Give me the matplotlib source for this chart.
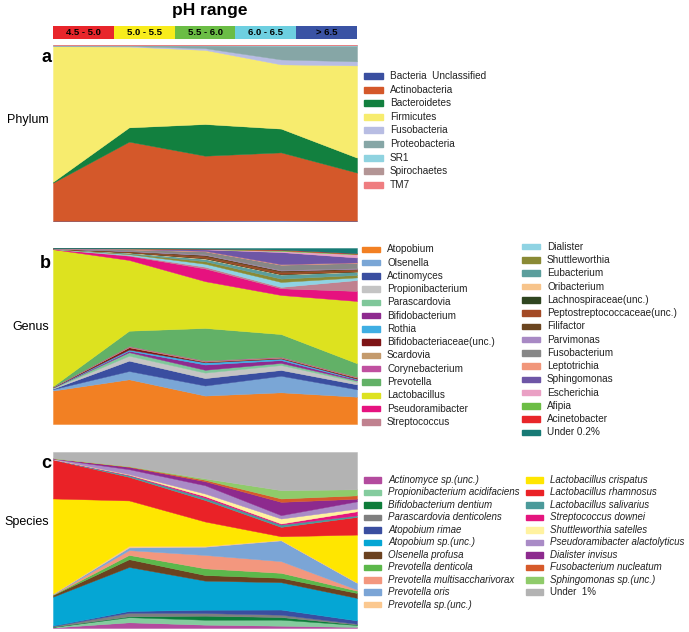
import numpy as np
import matplotlib.pyplot as plt
from matplotlib.patches import Rectangle

# pH ranges (x positions of the stacked areas)
ph_labels = ['4.5 - 5.0', '5.0 - 5.5', '5.5 - 6.0', '6.0 - 6.5', '> 6.5']
ph_colors = ['#e8252b', '#f8ec1c', '#6bbd45', '#6dcfe0', '#3a53a4']

# panel a : phylum (% per pH range, bottom -> top)
phylum_names = ['Bacteria  Unclassified', 'Actinobacteria', 'Bacteroidetes', 'Firmicutes',
                'Fusobacteria', 'Proteobacteria', 'SR1', 'Spirochaetes', 'TM7']
phylum_colors = ['#3a4fa0', '#d4582a', '#12803f', '#f7ec6e', '#b8bde3',
                 '#86a6a6', '#8fd3e0', '#b39595', '#ef7d80']
phylum_values = [
    [0.1, 0.1, 0.3, 0.4, 0.2],
    [21.7, 45.0, 36.8, 38.6, 27.3],
    [0.5, 8.1, 18.0, 13.5, 8.5],
    [77.0, 45.9, 42.1, 36.5, 52.4],
    [0.2, 0.3, 1.0, 2.8, 2.3],
    [0.3, 0.4, 1.5, 7.8, 8.9],
    [0.1, 0.1, 0.1, 0.2, 0.2],
    [0.05, 0.05, 0.1, 0.1, 0.1],
    [0.05, 0.05, 0.1, 0.1, 0.1],
]

# panel b : genus
genus_names = ['Atopobium', 'Olsenella', 'Actinomyces', 'Propionibacterium', 'Parascardovia',
               'Bifidobacterium', 'Rothia', 'Bifidobacteriaceae(unc.)', 'Scardovia',
               'Corynebacterium', 'Prevotella', 'Lactobacillus', 'Pseudoramibacter',
               'Streptococcus', 'Dialister', 'Shuttleworthia', 'Eubacterium', 'Oribacterium',
               'Lachnospiraceae(unc.)', 'Peptostreptococcaceae(unc.)', 'Filifactor',
               'Parvimonas', 'Fusobacterium', 'Leptotrichia', 'Sphingomonas', 'Escherichia',
               'Afipia', 'Acinetobacter', 'Under 0.2%']
genus_colors = ['#f28023', '#7aa6d6', '#3a4ea0', '#c4c4c4', '#7fc79a', '#8e2a8f', '#3faee3',
                '#7e1416', '#c49a6c', '#c050a0', '#62b167', '#dde21f', '#e6127f', '#c0818f',
                '#8fd3e3', '#8a8a35', '#5b9e9c', '#f7c48b', '#2f4520', '#a34a25', '#6b4520',
                '#a889c4', '#878787', '#f1967a', '#6e56a6', '#eaa0c4', '#6cbd45', '#e8262a',
                '#177a75']
genus_values = [
    [19.0, 25.4, 16.1, 18.0, 15.5],
    [0.8, 4.7, 5.7, 9.4, 4.2],
    [0.3, 5.9, 4.2, 3.3, 2.8],
    [0.3, 2.8, 3.1, 2.8, 1.5],
    [0.3, 2.0, 1.6, 1.2, 0.8],
    [0.1, 0.8, 3.0, 1.6, 0.5],
    [0.1, 0.7, 1.2, 0.9, 0.4],
    [0.1, 1.3, 0.4, 0.4, 0.6],
    [0.1, 0.4, 0.4, 0.3, 0.4],
    [0.1, 0.3, 0.3, 0.3, 0.2],
    [0.3, 8.7, 18.4, 12.9, 7.6],
    [77.8, 40.2, 26.5, 22.2, 35.4],
    [0.1, 2.4, 7.2, 3.8, 5.7],
    [0.1, 0.3, 1.0, 0.8, 6.2],
    [0.05, 0.6, 1.7, 2.8, 1.5],
    [0.02, 0.4, 1.4, 1.9, 1.4],
    [0.02, 0.4, 1.3, 2.3, 1.7],
    [0.02, 0.2, 0.3, 0.2, 0.2],
    [0.02, 0.1, 0.3, 0.2, 0.2],
    [0.02, 0.3, 0.8, 1.0, 0.8],
    [0.02, 0.3, 0.9, 0.9, 0.6],
    [0.02, 0.2, 0.3, 0.3, 0.3],
    [0.1, 0.8, 1.7, 3.0, 3.0],
    [0.02, 0.2, 0.3, 0.3, 0.3],
    [0.02, 0.2, 0.8, 6.9, 2.8],
    [0.02, 0.1, 0.2, 0.6, 1.8],
    [0.02, 0.05, 0.1, 0.5, 0.3],
    [0.02, 0.05, 0.1, 0.3, 0.3],
    [0.1, 0.2, 0.4, 0.9, 3.0],
]

# panel c : species
species_names = ['Actinomyce sp.(unc.)', 'Propionibacterium acidifaciens',
                 'Bifidobacterium dentium', 'Parascardovia denticolens', 'Atopobium rimae',
                 'Atopobium sp.(unc.)', 'Olsenella profusa', 'Prevotella denticola',
                 'Prevotella multisaccharivorax', 'Prevotella oris', 'Prevotella sp.(unc.)',
                 'Lactobacillus crispatus', 'Lactobacillus rhamnosus', 'Lactobacillus salivarius',
                 'Streptococcus downei', 'Shuttleworthia satelles',
                 'Pseudoramibacter alactolyticus', 'Dialister invisus',
                 'Fusobacterium nucleatum', 'Sphingomonas sp.(unc.)', 'Under  1%']
species_colors = ['#b34b9e', '#84cc9e', '#0e7d3a', '#7f7f7f', '#3a4ea0', '#05a6d4', '#6b4220',
                  '#5cb84b', '#f3977e', '#7ba5d6', '#fbc88f', '#ffe600', '#ea2227', '#4b9a9a',
                  '#e4157e', '#fff2a0', '#a98bc6', '#8d2a8e', '#d65a2a', '#8fcb6a', '#b3b3b3']
species_values = [
    [0.3, 3.2, 1.9, 1.3, 0.6],
    [0.3, 2.9, 2.8, 3.4, 1.1],
    [0.1, 0.5, 2.3, 1.5, 0.3],
    [0.5, 2.0, 1.5, 1.3, 0.4],
    [0.2, 1.0, 1.9, 2.9, 1.9],
    [16.5, 24.8, 16.5, 15.4, 12.7],
    [1.0, 4.4, 3.2, 2.5, 2.8],
    [0.2, 2.4, 3.8, 2.8, 1.3],
    [0.2, 2.7, 7.6, 6.6, 0.6],
    [0.2, 1.5, 4.7, 11.7, 3.8],
    [0.2, 0.9, 0.5, 0.3, 0.3],
    [54.3, 25.6, 13.8, 2.0, 27.0],
    [22.2, 13.3, 12.2, 5.3, 10.0],
    [0.1, 0.9, 1.3, 1.3, 0.9],
    [0.1, 0.3, 0.9, 0.6, 2.3],
    [0.05, 0.3, 1.5, 2.8, 1.5],
    [0.3, 2.8, 4.7, 1.9, 4.1],
    [0.2, 1.3, 2.3, 7.5, 1.5],
    [0.05, 0.3, 0.8, 1.9, 1.9],
    [0.05, 0.1, 0.8, 4.7, 3.4],
    [3.5, 8.0, 15.0, 21.5, 21.1],
]

W, H = 689, 632
fig = plt.figure(figsize=(W / 100, H / 100), dpi=100)


def fx(px):
    return px / W


def fy(py):
    return 1 - py / H


def area_panel(top, values, colors):
    ax = fig.add_axes([fx(53), fy(top + 176), fx(304), 176 / H])
    v = np.array(values, dtype=float)
    v = v / v.sum(axis=0) * 100
    x = np.arange(v.shape[1])
    polys = ax.stackplot(x, v, colors=colors, linewidth=0.3)
    for p in polys:
        p.set_edgecolor(p.get_facecolor())
    ax.set_xlim(0, v.shape[1] - 1)
    ax.set_ylim(0, 100)
    ax.axis('off')
    return ax


def legend_block(names, colors, x0, y0, step, pw, ph, size, italic=False):
    for i, (n, c) in enumerate(zip(names, colors)):
        y = y0 + i * step
        fig.add_artist(Rectangle((fx(x0), fy(y + ph / 2)), pw / W, ph / H,
                                 color=c, transform=fig.transFigure))
        style = 'italic' if italic and not n.startswith('Under') else 'normal'
        fig.text(fx(x0 + pw + 7), fy(y), n, fontsize=size, va='center', ha='left',
                 family='Liberation Sans', style=style, color='#222222')


# pH range header
fig.text(fx(210), fy(15), 'pH range', fontsize=12.5, fontweight='bold',
         family='Liberation Sans', ha='center', va='baseline')
ax_ph = fig.add_axes([fx(53), fy(39), fx(304), 13 / H])
ax_ph.bar(range(len(ph_labels)), [1] * len(ph_labels), width=1, color=ph_colors)
for i, lab in enumerate(ph_labels):
    ax_ph.text(i, 0.5, lab, ha='center', va='center', fontsize=6.8,
               fontweight='bold', family='Liberation Sans')
ax_ph.set_xlim(-0.5, len(ph_labels) - 0.5)
ax_ph.set_ylim(0, 1)
ax_ph.axis('off')

area_panel(45, phylum_values, phylum_colors)
area_panel(248, genus_values, genus_colors)
area_panel(452, species_values, species_colors)

# panel letters and row labels
for letter, ly, lab, ry in [('a', 58, 'Phylum', 120), ('b', 263, 'Genus', 327),
                            ('c', 463, 'Species', 522)]:
    fig.text(fx(51), fy(ly), letter, fontsize=13, fontweight='bold',
             family='Liberation Sans', ha='right', va='center')
    fig.text(fx(49), fy(ry), lab, fontsize=9, family='Liberation Sans',
             ha='right', va='center')

# legends
legend_block(phylum_names, phylum_colors, 364, 76, 13.6, 19, 6, 7.2)
legend_block(genus_names[:14], genus_colors[:14], 362, 249.3, 13.27, 18, 5.5, 7.2)
legend_block(genus_names[14:], genus_colors[14:], 522, 246.7, 13.27, 18, 5.5, 7.2)
legend_block(species_names[:11], species_colors[:11], 364, 480, 12.47, 17, 5.5, 7.0, italic=True)
legend_block(species_names[11:], species_colors[11:], 526, 480, 12.47, 17, 5.5, 7.0, italic=True)

fig.savefig('out.png', dpi=100)
